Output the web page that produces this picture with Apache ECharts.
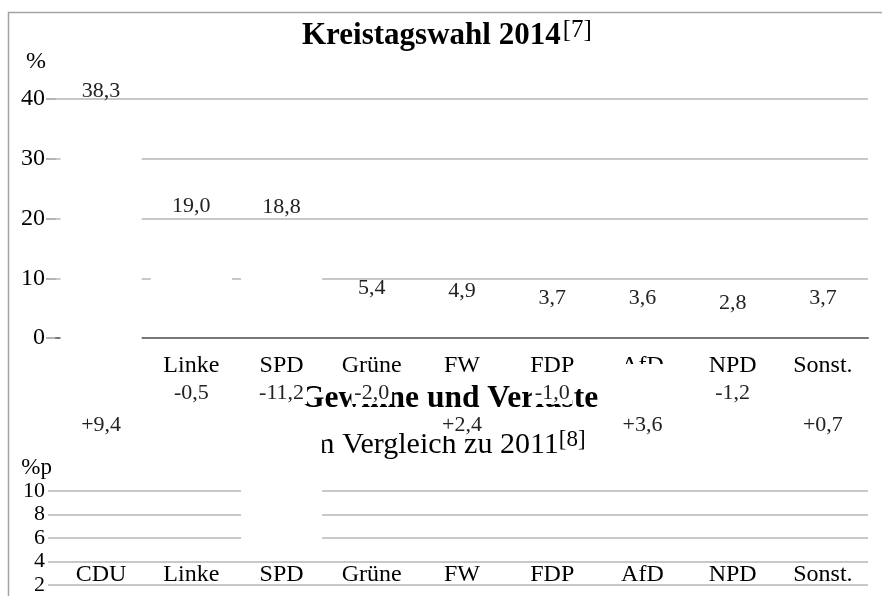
<!DOCTYPE html>
<html>
<head>
<meta charset="UTF-8">
<title>Kreistagswahl 2014</title>
<script src="https://cdn.jsdelivr.net/npm/echarts@6/dist/echarts.min.js"></script>
<style>
  html, body { margin: 0; padding: 0; background: #fff; }
  #main { width: 882px; height: 596px; }
</style>
</head>
<body>
<div id="main"></div>
<script type="text/javascript">
// Kreistagswahl 2014, Ergebnis und Veränderung gegenüber 2011
var parties = ['CDU', 'Linke', 'SPD', 'Grüne', 'FW', 'FDP', 'AfD', 'NPD', 'Sonst.'];
var result2014 = [38.3, 19.0, 18.8, 5.4, 4.9, 3.7, 3.6, 2.8, 3.7];
var change2011 = [9.4, -0.5, -11.2, -2.0, 2.4, -1.0, 3.6, -1.2, 0.7];
var pctTicks = [0, 10, 20, 30, 40];
var ppTicks = [0, 2, 4, 6, 8, 10];

var serif = '"Liberation Serif", "DejaVu Serif", serif';

function fmt(v) {
    return v.toFixed(1).replace('.', ',');
}
function fmtSigned(v) {
    return (v > 0 ? '+' : '') + fmt(v);
}

var myChart = echarts.init(document.getElementById('main'));

// labels sit above the zero line for losses, below it for gains
var changeData = change2011.map(function (v) {
    return { value: v, label: { position: v < 0 ? 'top' : 'bottom' } };
});

var option = {
    animation: false,
    textStyle: { fontFamily: serif },
    graphic: [{
        type: 'rect',
        silent: true,
        shape: { x: 8.5, y: 12.5, width: 900, height: 700 },
        style: { fill: 'none', stroke: '#a4a4a4', lineWidth: 1.5 }
    }],
    title: [{
        text: '{b|Kreistagswahl 2014}{g| }{s|[7]}',
        left: 302, top: 18, padding: 0,
        textStyle: {
            rich: {
                b: { fontFamily: serif, fontSize: 31, fontWeight: 'bold', lineHeight: 36, color: '#000' },
                g: { fontFamily: serif, fontSize: 8, lineHeight: 36 },
                s: { fontFamily: serif, fontSize: 25, fontWeight: 'normal', lineHeight: 25, verticalAlign: 'top', color: '#000' }
            }
        }
    }, {
        text: 'Gewinne und Verluste',
        left: 300, top: 384, padding: 0, z: 11,
        textStyle: { fontFamily: serif, fontSize: 31.5, fontWeight: 'bold', lineHeight: 30, color: '#000' }
    }, {
        text: '{n|im Vergleich zu 2011}{s|[8]}',
        left: 303, top: 428, padding: 0,
        textStyle: {
            rich: {
                n: { fontFamily: serif, fontSize: 30, fontWeight: 'normal', lineHeight: 34, color: '#000' },
                s: { fontFamily: serif, fontSize: 23, fontWeight: 'normal', lineHeight: 23, verticalAlign: 'top', color: '#000' }
            }
        }
    }],
    grid: [
        { left: 56, right: 14, top: 99, bottom: 258, outerBoundsMode: 'none' },
        { left: 56, right: 14, top: 491, bottom: -12.5, outerBoundsMode: 'none' },
        { left: 56, right: 14, top: 286, bottom: 33, outerBoundsMode: 'none' }
    ],
    xAxis: [{
        gridIndex: 0,
        type: 'category',
        data: parties,
        z: 3,
        axisLine: { lineStyle: { color: '#777', width: 2 } },
        axisTick: { show: false },
        axisLabel: { interval: 0, fontSize: 24, color: '#000', margin: 16 }
    }, {
        gridIndex: 1,
        type: 'category',
        data: parties,
        show: false
    }, {
        gridIndex: 2,
        type: 'category',
        data: parties,
        axisLine: { show: false },
        axisTick: { show: false },
        axisLabel: { interval: 0, fontSize: 24, color: '#000', margin: 0 }
    }],
    yAxis: [{
        gridIndex: 0,
        type: 'value',
        min: pctTicks[0],
        max: pctTicks[pctTicks.length - 1],
        interval: pctTicks[1] - pctTicks[0],
        name: '%',
        nameLocation: 'end',
        nameGap: 25,
        nameTextStyle: { fontSize: 24, color: '#000', align: 'right', padding: [0, 10, 0, 0] },
        axisLine: { show: false },
        axisTick: { show: true, length: 10, lineStyle: { color: '#b4b4b4', width: 2 } },
        axisLabel: { fontSize: 24, color: '#000', margin: 11 },
        splitLine: { lineStyle: { color: '#c8c8c8', width: 2 } }
    }, {
        gridIndex: 1,
        type: 'value',
        min: ppTicks[0],
        max: ppTicks[ppTicks.length - 1],
        interval: ppTicks[1] - ppTicks[0],
        name: '%p',
        nameLocation: 'end',
        nameGap: 12,
        nameTextStyle: { fontSize: 23, color: '#000', align: 'right', padding: [0, 4, 0, 0] },
        axisLine: { show: false },
        axisTick: { show: true, length: 8, lineStyle: { color: '#c8c8c8', width: 2 } },
        axisLabel: { fontSize: 22, lineHeight: 22, color: '#000', margin: 11 },
        splitLine: { lineStyle: { color: '#c8c8c8', width: 2 } }
    }, {
        gridIndex: 2,
        type: 'value',
        min: -12.705,
        max: 10,
        show: false,
        splitLine: { show: false }
    }],
    series: [{
        type: 'bar',
        xAxisIndex: 0,
        yAxisIndex: 0,
        data: result2014,
        barCategoryGap: '10%',
        itemStyle: { color: '#fff' },
        label: {
            show: true,
            position: 'top',
            distance: 7,
            fontSize: 22,
            color: '#222',
            formatter: function (p) { return fmt(p.value); }
        }
    }, {
        type: 'bar',
        xAxisIndex: 2,
        yAxisIndex: 2,
        data: change2011,
        z: 10,
        barCategoryGap: '10%',
        barGap: '-100%',
        itemStyle: { color: '#fff' }
    }, {
        // same values again, transparent, only to carry the labels above the title
        type: 'bar',
        xAxisIndex: 2,
        yAxisIndex: 2,
        data: changeData,
        z: 12,
        barCategoryGap: '10%',
        barGap: '-100%',
        itemStyle: { color: 'rgba(0,0,0,0)' },
        label: {
            show: true,
            distance: 4,
            fontSize: 22,
            lineHeight: 22,
            color: '#222',
            backgroundColor: '#fff',
            padding: [2, 3, 0, 3],
            formatter: function (p) { return fmtSigned(p.value); }
        }
    }]
};

myChart.setOption(option);
</script>
</body>
</html>
